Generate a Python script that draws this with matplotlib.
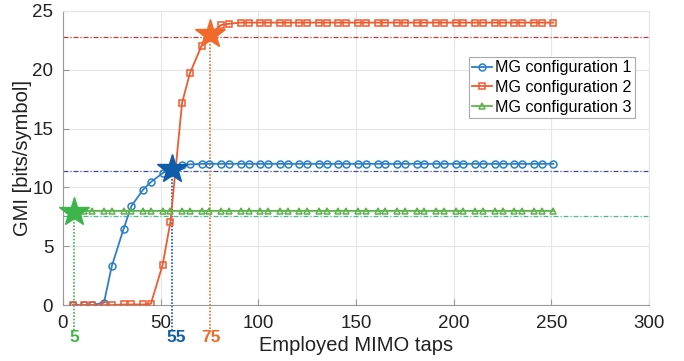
import matplotlib
matplotlib.use("Agg")
import matplotlib.pyplot as plt
import numpy as np

plt.rcParams['font.family'] = ['Liberation Sans', 'DejaVu Sans']

# taps: 5, 11, 15, 21, 25, ..., 245, 251
taps = [5, 11, 15] + [v for k in range(2, 25) for v in (10 * k + 1, 10 * k + 5)] + [251]

cfg1_head = [0.0, 0.0, 0.0, 0.2, 3.3, 6.45, 8.4, 9.8, 10.45, 11.2, 11.6, 11.9, 11.95]
cfg2_head = [0.0, 0.0, 0.0, 0.0, 0.0, 0.05, 0.05, 0.05, 0.1, 3.4, 7.05, 17.2, 19.7,
             22.05, 23.0, 23.8, 23.9]
cfg1 = cfg1_head + [12.0] * (len(taps) - len(cfg1_head))
cfg2 = cfg2_head + [24.0] * (len(taps) - len(cfg2_head))
cfg3 = [7.95] + [8.0] * (len(taps) - 1)

labels = ["MG configuration 1", "MG configuration 2", "MG configuration 3"]

# selected operating points (star markers)
star_x = [55.7, 75.3, 5.7]
star_y = [11.6, 23.0, 7.9]
star_lbl = ["55", "75", "5"]
lbl_x = [57.8, 75.5, 5.7]
ref_levels = [11.35, 22.8, 7.55]

col_line = ["#2C7FC9", "#F05A2F", "#5DB44C"]
col_star = ["#0F5CAA", "#F26A2B", "#3DB54A"]
col_ref = ["#3A4FA0", "#C23B3B", "#4DB88A"]

xticks = [0, 50, 100, 150, 200, 250, 300]
yticks = [0, 5, 10, 15, 20, 25]

fig = plt.figure(figsize=(6.84, 3.61), dpi=100)
ax = fig.add_axes([0.092, 0.155, 0.857, 0.815])

series = [cfg1, cfg2, cfg3]
markers = ["o", "s", "^"]
for s, m, c, lab in zip(series, markers, col_line, labels):
    ax.plot(taps, s, marker=m, color=c, lw=1.3, ms=5, mfc="none", mew=1.1,
            label=lab, zorder=3)

for lv, c in zip(ref_levels, col_ref):
    ax.axhline(lv, color=c, lw=0.9, ls=(0, (4, 1.5, 1, 1.5)), zorder=2)

for sx, sy, lx, c, t in zip(star_x, star_y, lbl_x, col_star, star_lbl):
    ax.plot([sx, sx], [sy, -2.1], color=c, lw=1.2, ls=(0, (1, 1)), clip_on=False, zorder=2)
    ax.plot(sx, sy, marker="*", color=c, ms=22, mec=c, zorder=5, clip_on=False)
    ax.text(lx, -2.75, t, color=c, fontsize=12.5, fontweight="bold", ha="center",
            va="center", clip_on=False)

ax.set_xlim(0, 300)
ax.set_ylim(0, 25)
ax.set_xticks(xticks)
ax.set_yticks(yticks)
ax.tick_params(labelsize=13.5, colors="#222222", length=4, width=0.8, direction="in",
               color="#999999", pad=7)
ax.grid(True, color="#e6e6e6", lw=0.8)
ax.set_axisbelow(True)
for side in ["top", "right"]:
    ax.spines[side].set_color("#e6e6e6")
for side in ["left", "bottom"]:
    ax.spines[side].set_color("#999999")

ax.set_xlabel("Employed MIMO taps", fontsize=14.5, color="#222222", labelpad=3)
ax.set_ylabel("GMI [bits/symbol]", fontsize=14.5, color="#222222", labelpad=0)

leg = ax.legend(loc="upper left", bbox_to_anchor=(0.693, 0.843), fontsize=11.6,
                handlelength=1.2, handletextpad=0.2, borderpad=0.2, labelspacing=0.3,
                borderaxespad=0, fancybox=False, framealpha=1, edgecolor="#aaaaaa")
leg.get_frame().set_linewidth(0.8)

fig.savefig("out.png", dpi=100)
